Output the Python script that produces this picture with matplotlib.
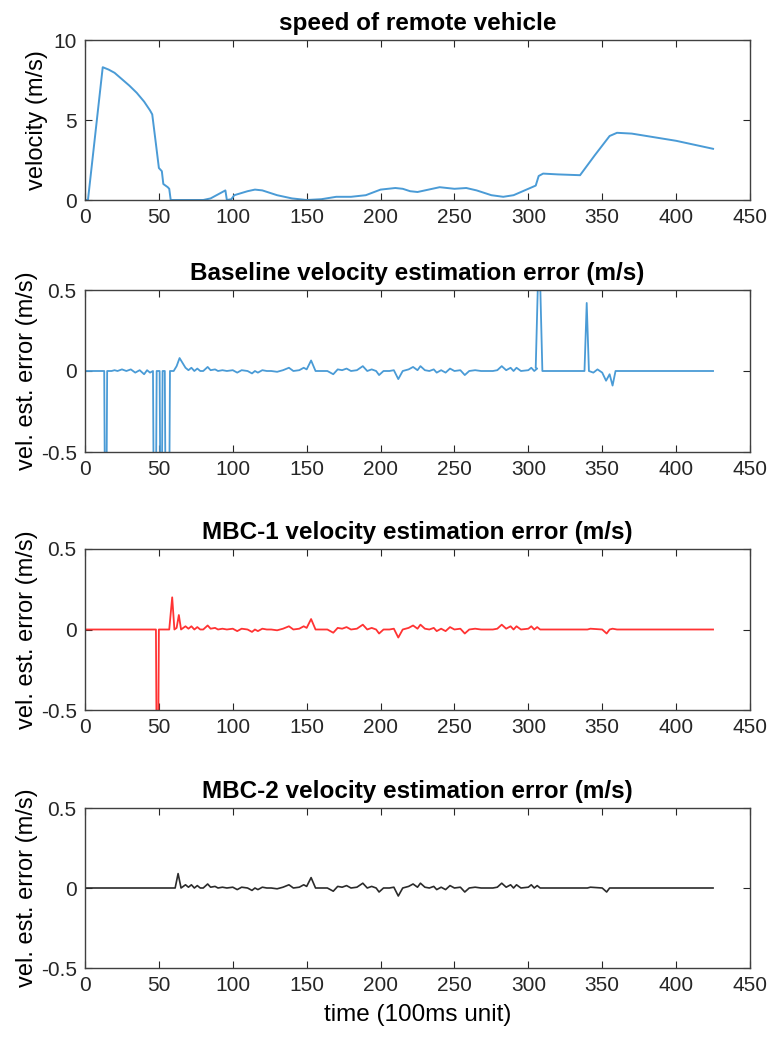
import numpy as np
import matplotlib.pyplot as plt

plt.rcParams['font.family'] = ['Liberation Sans', 'DejaVu Sans']

# speed of remote vehicle (m/s) vs time (100ms unit)
speed_t = [0, 2, 12, 16, 20, 25, 30, 35, 40, 44, 45.5, 48, 50, 52, 53, 56, 57, 58, 60, 80, 85,
           95, 96, 99, 101, 110, 115, 120, 130, 140, 150, 160, 170, 180, 190, 200, 210, 215,
           220, 225, 230, 240, 250, 258, 265, 275, 283, 290, 300, 305, 307, 310, 320, 335, 345,
           355, 360, 370, 380, 390, 400, 410, 425]
speed_v = [0, 0, 8.3, 8.15, 7.95, 7.55, 7.15, 6.7, 6.15, 5.6, 5.35, 3.5, 2.0, 1.8, 1.0, 0.8,
           0.7, 0.0, 0.0, 0.0, 0.1, 0.6, 0.0, 0.05, 0.3, 0.55, 0.65, 0.6, 0.3, 0.1, 0.0, 0.05,
           0.2, 0.2, 0.3, 0.65, 0.75, 0.7, 0.55, 0.5, 0.6, 0.8, 0.7, 0.75, 0.6, 0.3, 0.2, 0.3,
           0.7, 0.9, 1.5, 1.65, 1.6, 1.55, 2.8, 4.0, 4.2, 4.15, 4.0, 3.85, 3.7, 3.5, 3.2]

# small estimation noise shared by all estimators (t 66..308)
noise_t = [66, 68, 70, 72, 74, 76, 78, 80, 83, 85, 88, 90, 93, 96, 100, 103, 106, 110, 113,
           115, 117, 120, 123, 126, 130, 134, 138, 141, 145, 148, 150, 153, 156, 160, 164,
           168, 171, 174, 177, 180, 184, 188, 191, 194, 197, 199, 202, 206, 209, 212, 215,
           219, 222, 225, 227, 230, 233, 236, 238, 241, 244, 247, 250, 254, 257, 260, 264,
           268, 272, 276, 279, 282, 285, 288, 290, 292, 295, 300, 302, 304, 306, 308]
noise_e = [0.0, 0.02, 0.005, 0.02, 0.0, 0.015, 0.0, 0.0, 0.025, 0.005, 0.01, 0.0, 0.005, 0.0,
           0.005, -0.01, 0.005, 0.0, -0.015, 0.0, -0.01, 0.005, 0.0, 0.0, -0.005, 0.005, 0.02,
           0.0, 0.005, 0.02, 0.01, 0.065, 0.0, 0.0, 0.0, -0.02, 0.01, 0.005, 0.015, 0.0, 0.005,
           0.03, 0.0, 0.01, 0.0, -0.025, 0.0, 0.0, 0.005, -0.05, 0.0, 0.01, 0.025, 0.005, 0.03,
           0.005, 0.0, 0.01, -0.01, 0.005, -0.01, 0.015, 0.0, 0.005, -0.025, 0.0, 0.005, 0.0,
           0.0, 0.0, 0.005, 0.03, 0.005, 0.02, 0.0, 0.02, 0.0, 0.005, 0.02, 0.0, 0.015, 0.0]

# baseline: early dropouts and late spikes
base_pre_t = [0, 13, 13.5, 14.5, 15, 18, 20, 22, 25, 28, 31, 34, 37, 40, 42, 44, 46,
              46.5, 48, 48.5, 50.5, 51, 52, 52.5, 54, 54.5, 57, 57.5, 59, 60, 62, 64]
base_pre_e = [0, 0, -0.8, -0.8, 0, 0.0, 0.005, 0.0, 0.01, 0.0, 0.01, -0.01, 0.005, -0.02,
              0.005, -0.01, 0.0, -0.8, -0.8, 0.0, 0.0, -0.8, -0.8, 0.0, 0.0, -0.8, -0.8,
              0.0, 0.0, 0.0, 0.03, 0.08]
base_spike_t = [305, 306.5, 308]
base_spike_e = [0.02, 0.55, 0.55]
base_post_t = [309.5, 338, 339.5, 341, 344, 346.8, 350, 352.6, 355, 357, 359, 425]
base_post_e = [0.0, 0.0, 0.42, 0.0, -0.01, 0.01, -0.01, -0.06, -0.02, -0.09, 0.0, 0.0]

# MBC-1
mbc1_pre_t = [0, 48, 48.5, 49.5, 50, 57, 59, 60.5, 62, 63.5, 65]
mbc1_pre_e = [0, 0, -0.8, -0.8, 0, 0, 0.2, 0.0, 0.01, 0.09, 0.0]
mbc1_post_t = [310, 340, 342, 350, 353, 355, 357, 360, 425]
mbc1_post_e = [0.0, 0.0, 0.005, 0.0, -0.025, 0.0, 0.005, 0.0, 0.0]

# MBC-2
mbc2_pre_t = [0, 61, 63, 65]
mbc2_pre_e = [0, 0, 0.09, 0.0]
mbc2_post_t = [310, 340, 342, 350, 353, 355, 360, 425]
mbc2_post_e = [0.0, 0.0, 0.005, 0.0, -0.025, 0.0, 0.0, 0.0]

base_t = base_pre_t + noise_t[1:-1] + base_spike_t + base_post_t
base_e = base_pre_e + noise_e[1:-1] + base_spike_e + base_post_e
mbc1_t = mbc1_pre_t + noise_t[1:] + mbc1_post_t
mbc1_e = mbc1_pre_e + noise_e[1:] + mbc1_post_e
mbc2_t = mbc2_pre_t + noise_t[1:] + mbc2_post_t
mbc2_e = mbc2_pre_e + noise_e[1:] + mbc2_post_e

blue = '#4a9bd6'
red = '#ff3333'
dark = '#2b2b2b'

fig = plt.figure(figsize=(7.68, 10.42), dpi=100)
W, H = 768, 1042
boxes = [(200, 40), (452, 290), (710, 549), (968, 808)]
axes = []
for bot, top in boxes:
    ax = fig.add_axes([85 / W, 1 - bot / H, 665 / W, (bot - top) / H])
    axes.append(ax)

axes[0].plot(speed_t, speed_v, color=blue, lw=1.4)
axes[1].plot(base_t, base_e, color=blue, lw=1.3)
axes[2].plot(mbc1_t, mbc1_e, color=red, lw=1.3)
axes[3].plot(mbc2_t, mbc2_e, color=dark, lw=1.2)

titles = ['speed of remote vehicle',
          'Baseline velocity estimation error (m/s)',
          'MBC-1 velocity estimation error (m/s)',
          'MBC-2 velocity estimation error (m/s)']

for i, ax in enumerate(axes):
    ax.set_xlim(0, 450)
    ax.set_xticks(np.arange(0, 451, 50))
    if i == 0:
        ax.set_ylim(0, 10)
        ax.set_yticks([0, 5, 10])
        ax.set_ylabel('velocity (m/s)', fontsize=17, labelpad=4)
    else:
        ax.set_ylim(-0.5, 0.5)
        ax.set_yticks([-0.5, 0, 0.5])
        ax.set_yticklabels(['-0.5', '0', '0.5'])
        ax.set_ylabel('vel. est. error (m/s)', fontsize=17, labelpad=2)
    ax.set_title(titles[i], fontsize=17.5, fontweight='bold', pad=7)
    ax.tick_params(direction='in', length=5, width=0.8, top=True, right=True,
                   labelsize=15, colors='#262626', pad=6)
    for s in ax.spines.values():
        s.set_color('#404040')
        s.set_linewidth(1.0)

axes[3].set_xlabel('time (100ms unit)', fontsize=17.5, labelpad=6)

fig.savefig('out.png', dpi=100)
